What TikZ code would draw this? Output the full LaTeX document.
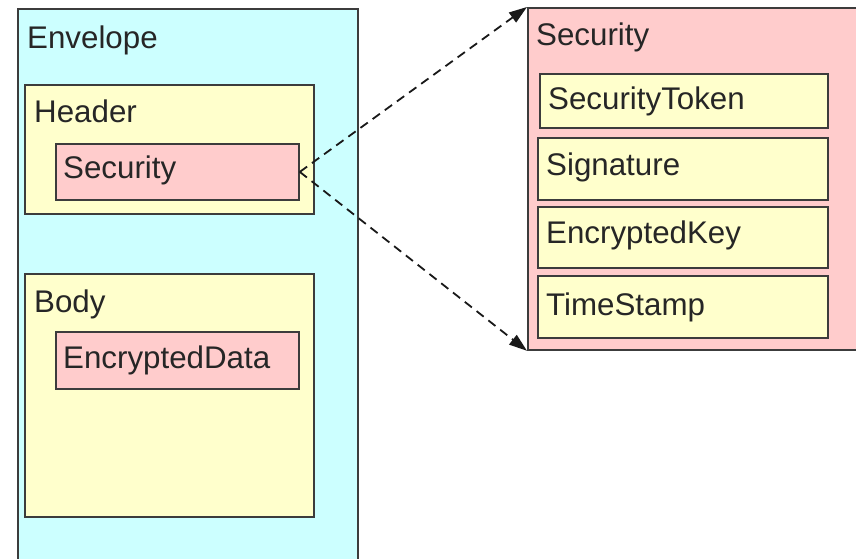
\documentclass[tikz,border=0pt]{standalone}
\usepackage{fontspec}
\setmainfont{Liberation Sans}
\usetikzlibrary{arrows.meta}
\definecolor{envfill}{RGB}{204,255,255}
\definecolor{partfill}{RGB}{255,255,204}
\definecolor{secfill}{RGB}{255,204,204}
\definecolor{edge}{RGB}{60,60,60}
\tikzset{
  box/.style={draw=edge, line width=1.8pt, rectangle, inner sep=0pt, anchor=north west},
  envbox/.style={box, fill=envfill},
  partbox/.style={box, fill=partfill},
  secbox/.style={box, fill=secfill},
  lbl/.style={anchor=base west, inner sep=0pt, text=black!85,
    font=\fontsize{31.3}{36}\selectfont},
  link/.style={draw=black!90, line width=1.8pt, dash pattern=on 9pt off 6pt,
    -{Triangle[length=18pt,width=12pt]}}
}
\begin{document}
\begin{tikzpicture}[x=1pt,y=-1pt]
\useasboundingbox (0,0) rectangle (856,558);
\clip (0,0) rectangle (856,558);
\fill[white] (0,0) rectangle (856,558);

% SOAP envelope with header and body
\node[envbox, minimum width=340pt, minimum height=580pt] (env) at (17,8) {};
\node[lbl] (envlbl) at (27,48) {Envelope};

\node[partbox, minimum width=289pt, minimum height=129pt] (hdr) at (24,84) {};
\node[lbl] (hdrlbl) at (34,122) {Header};
\node[secbox, minimum width=243pt, minimum height=56pt] (sec) at (55,143) {};
\node[lbl] (seclbl) at (63,178) {Security};

\node[partbox, minimum width=289pt, minimum height=243pt] (body) at (24,273) {};
\node[lbl] (bodylbl) at (34,312) {Body};
\node[secbox, minimum width=243pt, minimum height=57pt] (encdata) at (55,331) {};
\node[lbl] (encdatalbl) at (63,368) {EncryptedData};

% Expanded Security header element
\node[secbox, minimum width=340pt, minimum height=342pt] (secx) at (527,7) {};
\node[lbl] (secxlbl) at (536,45) {Security};
\node[partbox, minimum width=288pt, minimum height=54pt] (tok) at (539,73) {};
\node[lbl] (toklbl) at (548,109) {SecurityToken};
\node[partbox, minimum width=290pt, minimum height=62pt] (sig) at (537,137) {};
\node[lbl] (siglbl) at (546,175) {Signature};
\node[partbox, minimum width=290pt, minimum height=61pt] (key) at (537,206) {};
\node[lbl] (keylbl) at (546,243) {EncryptedKey};
\node[partbox, minimum width=290pt, minimum height=62pt] (ts) at (537,275) {};
\node[lbl] (tslbl) at (546,315) {TimeStamp};

% Dashed links from the header Security element to its expansion
\draw[link] (sec.east) -- (secx.north west);
\draw[link] (sec.east) -- (secx.south west);
\end{tikzpicture}
\end{document}
